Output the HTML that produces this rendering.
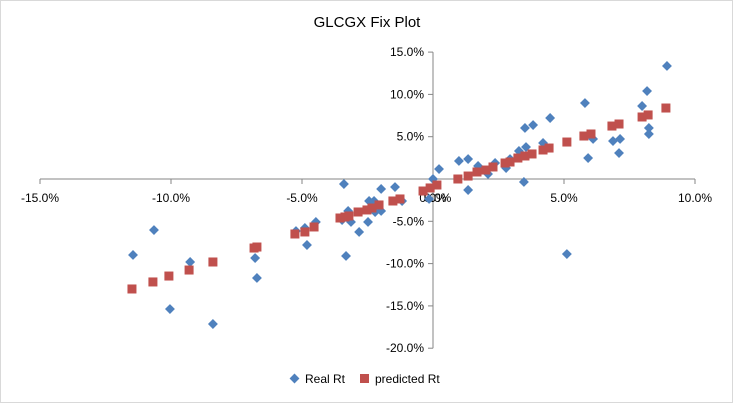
<!DOCTYPE html>
<html><head><meta charset="utf-8"><style>
body{margin:0;background:#fff;}
svg{display:block;font-family:"Liberation Sans",Arial,sans-serif;}
</style></head><body>
<svg id="chart" width="733" height="403">
<rect x="0.5" y="0.5" width="732" height="402" fill="#fff" stroke="#d9d9d9"/>
<text x="367" y="27" font-size="15" text-anchor="middle" fill="#000">GLCGX Fix Plot</text>
<g id="axes"></g>
<g id="marks"></g>
<g>
<rect x="291" y="375" width="7" height="7" fill="#4f81bd" transform="rotate(45 294.5 378.5)"/>
<text x="305" y="383" font-size="12">Real Rt</text>
<rect x="360" y="374" width="9" height="9" fill="#c0504d"/>
<text x="375" y="383" font-size="12">predicted Rt</text>
</g>
</svg>
<script>
const xTicks=[-15,-10,-5,0,5,10];
const yTicks=[15,10,5,0,-5,-10,-15,-20];
const realX=[-11.45,-10.65,-10.04,-9.27,-8.40,-6.79,-6.72,-5.23,-4.89,-4.81,-4.47,-3.40,-3.47,-3.32,-3.24,-3.13,-2.82,-2.48,-2.44,-2.25,-2.21,-1.98,-1.98,-1.45,-1.18,-0.15,0,0.23,0.99,1.34,1.34,1.72,2.10,2.37,2.79,2.94,3.28,3.51,3.55,3.47,3.82,4.20,4.47,5.80,5.92,6.11,5.11,6.87,7.14,7.10,7.98,8.17,8.24,8.24,8.93];
const realY=[-8.98,-6.03,-15.37,-9.81,-17.14,-9.34,-11.70,-6.15,-5.79,-7.80,-5.08,-0.59,-4.85,-9.10,-3.78,-5.08,-6.26,-5.08,-2.60,-2.60,-3.90,-1.18,-3.78,-0.95,-2.60,-2.36,0,1.18,2.13,2.36,-1.30,1.54,0.59,1.89,1.30,2.36,3.31,6.03,3.78,-0.35,6.38,4.26,7.21,8.98,2.48,4.73,-8.87,4.49,4.73,3.07,8.63,10.40,6.03,5.32,13.36];
const predX=[-11.49,-10.69,-10.08,-9.31,-8.40,-6.83,-6.72,-5.27,-4.89,-4.54,-3.55,-3.36,-3.21,-2.86,-2.52,-2.33,-2.06,-1.53,-1.26,-0.38,-0.11,0.15,0.95,1.34,1.68,2.02,2.29,2.75,2.94,3.24,3.51,3.78,4.20,4.43,5.11,5.76,6.03,6.83,7.10,7.98,8.21,8.89];
const predY=[-13.0,-12.17,-11.47,-10.76,-9.81,-8.16,-8.04,-6.50,-6.26,-5.67,-4.61,-4.49,-4.37,-3.90,-3.66,-3.43,-3.07,-2.60,-2.36,-1.42,-1.06,-0.71,0,0.35,0.83,1.06,1.42,1.89,2.01,2.48,2.72,2.96,3.43,3.66,4.37,5.08,5.32,6.26,6.50,7.33,7.57,8.39];

const NS="http://www.w3.org/2000/svg";
function sx(v){return 433+(v)*26.2;}
function sy(v){return 179-(v)*8.46;}
const axes=document.getElementById('axes'),marks=document.getElementById('marks');
function mk(tag,attrs,parent){const e=document.createElementNS(NS,tag);for(const k in attrs)e.setAttribute(k,attrs[k]);parent.appendChild(e);return e;}
let xa=mk('line',{x1:sx(-15),x2:sx(10),y1:sy(0),y2:sy(0),stroke:'#868686'},axes);


let ya=mk('line',{x1:sx(0),x2:sx(0),y1:sy(15),y2:sy(-20),stroke:'#868686'},axes);


xTicks.forEach(t=>{
 let l=mk('line',{x1:sx(t),x2:sx(t),y1:sy(0),y2:sy(0)+5,stroke:'#868686'},axes);
 
 
 let tx=mk('text',{x:sx(t),y:sy(0)+23,'font-size':12,'text-anchor':'middle'},axes);
 tx.textContent=t.toFixed(1)+'%';
 
 
});
yTicks.forEach(t=>{
 let l=mk('line',{x1:sx(0)-5,x2:sx(0),y1:sy(t),y2:sy(t),stroke:'#868686'},axes);
 
 
 if(t===0)return;
 let tx=mk('text',{x:sx(0)-9,y:sy(t)+4,'font-size':12,'text-anchor':'end'},axes);
 tx.textContent=t.toFixed(1)+'%';
 
 
});
let z=mk('text',{x:sx(0)-9,y:sy(0)+23,'font-size':12,'text-anchor':'start'},axes);
z.textContent='0.0%';


realX.forEach((v,i)=>{
 const cx=sx(v),cy=sy(realY[i]);
 let r=mk('rect',{x:cx-3.5,y:cy-3.5,width:7,height:7,fill:'#4f81bd',transform:`rotate(45 ${cx} ${cy})`},marks);
 
 
});
predX.forEach((v,i)=>{
 const cx=sx(v),cy=sy(predY[i]);
 let r=mk('rect',{x:cx-4.5,y:cy-4.5,width:9,height:9,fill:'#c0504d'},marks);
 
 
});
</script>
</body></html>
